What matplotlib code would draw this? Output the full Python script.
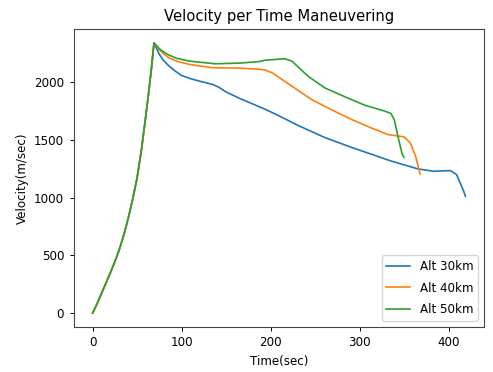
import matplotlib
matplotlib.use("Agg")
import matplotlib.pyplot as plt

# Shared boost phase (all three curves overlap)
t_rise = [0, 5, 10, 15, 20, 25, 30, 35, 40, 45, 50, 55, 60, 63, 66, 69]
v_rise = [0, 80, 170, 260, 350, 445, 550, 675, 820, 985, 1170, 1420, 1720, 1910, 2110, 2340]

# Alt 30km after burnout
t_30 = [72, 75, 80, 86, 93, 100, 110, 120, 135, 142, 150, 165, 194, 209, 231, 261, 291, 335, 365, 383, 402, 409, 417, 419]
v_30 = [2290, 2240, 2185, 2139, 2095, 2058, 2030, 2009, 1980, 1955, 1915, 1860, 1765, 1710, 1625, 1520, 1435, 1318, 1250, 1228, 1234, 1200, 1055, 1011]

# Alt 40km after burnout
t_40 = [75, 80, 86, 95, 109, 135, 165, 187, 194, 202, 224, 246, 268, 291, 313, 332, 350, 357, 363, 368]
v_40 = [2280, 2245, 2211, 2180, 2153, 2125, 2122, 2112, 2105, 2080, 1965, 1850, 1763, 1677, 1604, 1546, 1526, 1474, 1358, 1205]

# Alt 50km after burnout
t_50 = [75, 80, 86, 95, 109, 138, 165, 187, 194, 216, 224, 242, 261, 283, 306, 328, 335, 339, 343, 348, 350]
v_50 = [2290, 2260, 2234, 2205, 2182, 2159, 2165, 2178, 2190, 2203, 2182, 2052, 1950, 1875, 1800, 1750, 1730, 1676, 1532, 1373, 1350]

labels = ["Alt 30km", "Alt 40km", "Alt 50km"]
title = "Velocity per Time Maneuvering"
xlabel = "Time(sec)"
ylabel = "Velocity(m/sec)"

fig = plt.figure(figsize=(4.93, 3.72), dpi=100)
ax = fig.add_axes([0.150, 0.122, 0.832, 0.799])

for (tt, vv), lab in zip([(t_30, v_30), (t_40, v_40), (t_50, v_50)], labels):
    ax.plot(t_rise + tt, v_rise + vv, label=lab, lw=1.2)

fs = 8.6
ax.set_title(title, fontsize=10.6, pad=6)
ax.set_xlabel(xlabel, fontsize=fs, labelpad=4)
ax.set_ylabel(ylabel, fontsize=fs, labelpad=4)
ax.set_xticks([0, 100, 200, 300, 400])
ax.set_yticks([0, 500, 1000, 1500, 2000])
ax.tick_params(labelsize=fs, length=3.0, pad=4.0, width=0.7)
for s in ax.spines.values():
    s.set_linewidth(0.8)
    s.set_color("#444444")
ax.legend(loc="lower right", fontsize=fs, handlelength=2.0, labelspacing=0.7)

fig.savefig("out.png", dpi=100)
